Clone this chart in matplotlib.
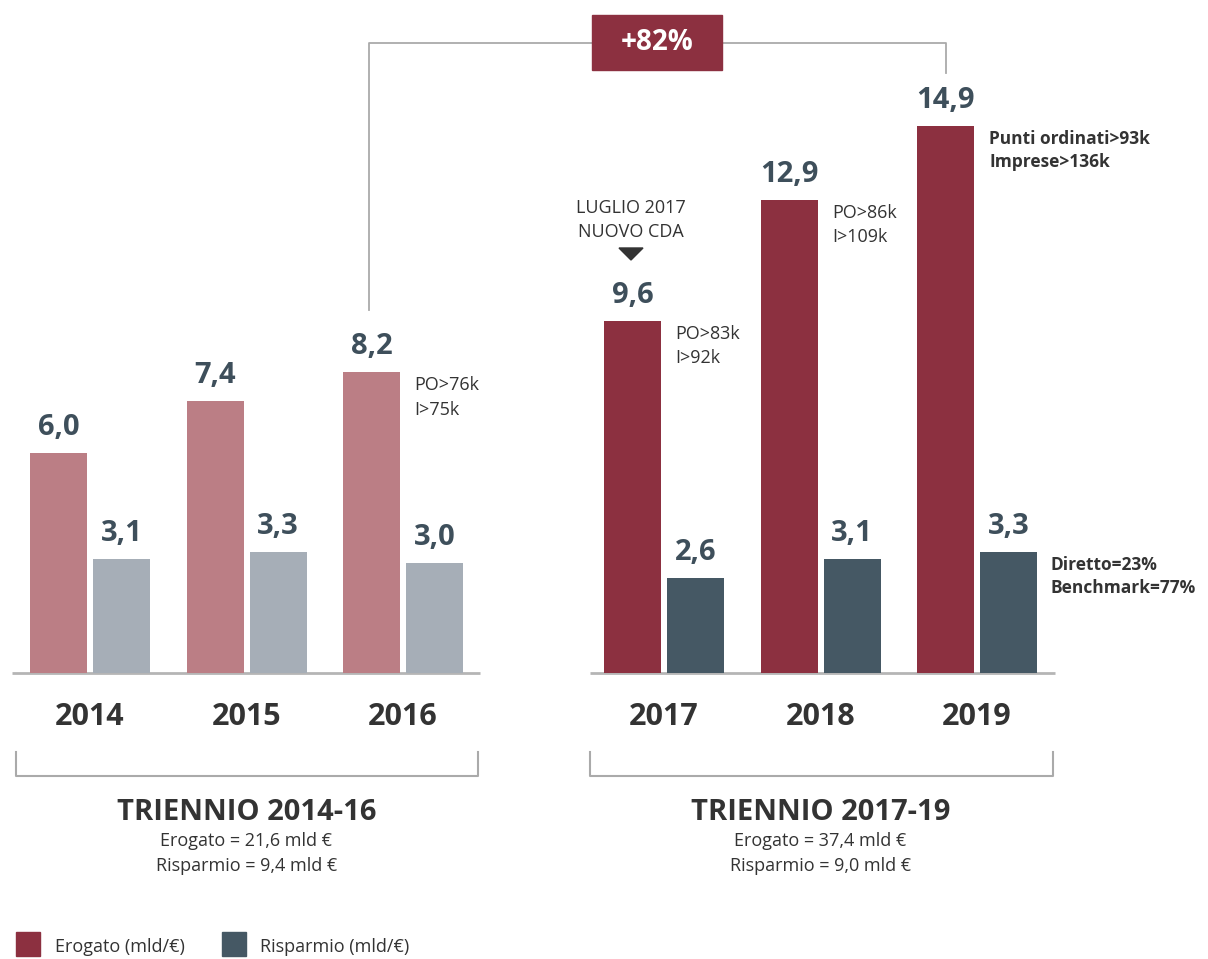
import matplotlib.pyplot as plt
from matplotlib.patches import Rectangle, Polygon

plt.rcParams['font.family'] = ['Open Sans', 'DejaVu Sans']

## Data
years = ['2014', '2015', '2016', '2017', '2018', '2019']
erogato = [6.0, 7.4, 8.2, 9.6, 12.9, 14.9]
risparmio = [3.1, 3.3, 3.0, 2.6, 3.1, 3.3]
trienni = ['TRIENNIO 2014-16', 'TRIENNIO 2017-19']
trienni_erogato = ['21,6', '37,4']
trienni_risparmio = ['9,4', '9,0']
note_erogato = {'2016': 'PO>76k\nI>75k', '2017': 'PO>83k\nI>92k', '2018': 'PO>86k\nI>109k'}
note_2019_erog = 'Punti ordinati>93k\nImprese>136k'
note_2019_risp = 'Diretto=23%\nBenchmark=77%'
crescita = '+82%'

## Colours
light_red = '#bb7e85'
light_grey = '#a6aeb7'
dark_red = '#8c3040'
dark_slate = '#455864'
label_col = '#3e4f5b'
text_col = '#333333'
line_col = '#aaaaaa'

## Layout (pixels)
W, H = 1208, 959
base_px = 673
pxu = 36.7
step = 156.5
centers = [90 + i * step for i in range(3)] + [664 + i * step for i in range(3)]
bw = 57
off = 31.5

fig = plt.figure(figsize=(W / 100, H / 100), dpi=100)
ax = fig.add_axes([0, 0, 1, 1])
ax.set_xlim(0, W)
ax.set_ylim(-(H - base_px) / pxu, base_px / pxu)
ax.axis('off')

# overlay in pixel coordinates for decorations
ax2 = fig.add_axes([0, 0, 1, 1], facecolor='none')
ax2.set_xlim(0, W)
ax2.set_ylim(H, 0)
ax2.axis('off')

def fmt(v):
	return ('%.1f' % v).replace('.', ',')

# baselines
ax.plot([12, 480], [0, 0], color='#b5b5b5', lw=2, solid_capstyle='butt')
ax.plot([590, 1055], [0, 0], color='#b5b5b5', lw=2, solid_capstyle='butt')

for i, yr in enumerate(years):
	c1 = light_red if i < 3 else dark_red
	c2 = light_grey if i < 3 else dark_slate
	x1 = centers[i] - off
	x2 = centers[i] + off
	ax.bar(x1, erogato[i], width=bw, color=c1, zorder=2)
	ax.bar(x2, risparmio[i], width=bw, color=c2, zorder=2)
	ax.annotate(fmt(erogato[i]), (x1, erogato[i]), xytext=(0, 13), textcoords='offset points',
		ha='center', va='baseline', fontsize=21, fontweight='bold', color=label_col)
	ax.annotate(fmt(risparmio[i]), (x2, risparmio[i]), xytext=(0, 13), textcoords='offset points',
		ha='center', va='baseline', fontsize=21, fontweight='bold', color=label_col)
	ax2.text(centers[i], 717, yr, ha='center', va='center', fontsize=22, fontweight='bold', color=text_col)
	if yr in note_erogato:
		ax.annotate(note_erogato[yr], (x1 + bw / 2, erogato[i]), xytext=(10.5, -3), textcoords='offset points',
			ha='left', va='top', fontsize=13, color=text_col, linespacing=1.45)

ax.annotate(note_2019_erog, (centers[5] - off + bw / 2, erogato[5]), xytext=(11, -3), textcoords='offset points',
	ha='left', va='top', fontsize=12.5, fontweight='bold', color=text_col, linespacing=1.35)
ax.annotate(note_2019_risp, (centers[5] + off + bw / 2, risparmio[5]), xytext=(10, -3), textcoords='offset points',
	ha='left', va='top', fontsize=12.5, fontweight='bold', color=text_col, linespacing=1.35)

# luglio 2017 marker
ax2.text(631, 220, 'LUGLIO 2017\nNUOVO CDA', ha='center', va='center', fontsize=13, color=text_col, linespacing=1.45)
ax2.add_patch(Polygon([(619, 248), (643, 248), (631, 260)], closed=True, color='#333333'))

# growth bracket
ax2.plot([369, 369, 946, 946], [310, 43, 43, 73], color=line_col, lw=1.3)
ax2.add_patch(Rectangle((592, 15), 130, 55, color=dark_red, zorder=3))
ax2.text(657, 43, crescita, ha='center', va='center', fontsize=20, fontweight='bold', color='white', zorder=4)

# trienni brackets
for k, (xa, xb) in enumerate([(16, 478), (590, 1053)]):
	ax2.plot([xa, xa, xb, xb], [752, 776, 776, 752], color=line_col, lw=1.5)
	xc = (centers[3 * k] + centers[3 * k + 2]) / 2
	ax2.text(xc, 812, trienni[k], ha='center', va='center', fontsize=21, fontweight='bold', color=text_col)
	ax2.text(xc, 841, 'Erogato = ' + trienni_erogato[k] + ' mld €', ha='center', va='center', fontsize=13, color=text_col)
	ax2.text(xc, 866, 'Risparmio = ' + trienni_risparmio[k] + ' mld €', ha='center', va='center', fontsize=13, color=text_col)

# legend
ax2.add_patch(Rectangle((16, 932), 24, 24, color=dark_red))
ax2.text(55, 947, 'Erogato (mld/€)', ha='left', va='center', fontsize=13, color=text_col)
ax2.add_patch(Rectangle((222, 932), 24, 24, color=dark_slate))
ax2.text(260, 947, 'Risparmio (mld/€)', ha='left', va='center', fontsize=13, color=text_col)

plt.savefig('out.png', dpi=100)
